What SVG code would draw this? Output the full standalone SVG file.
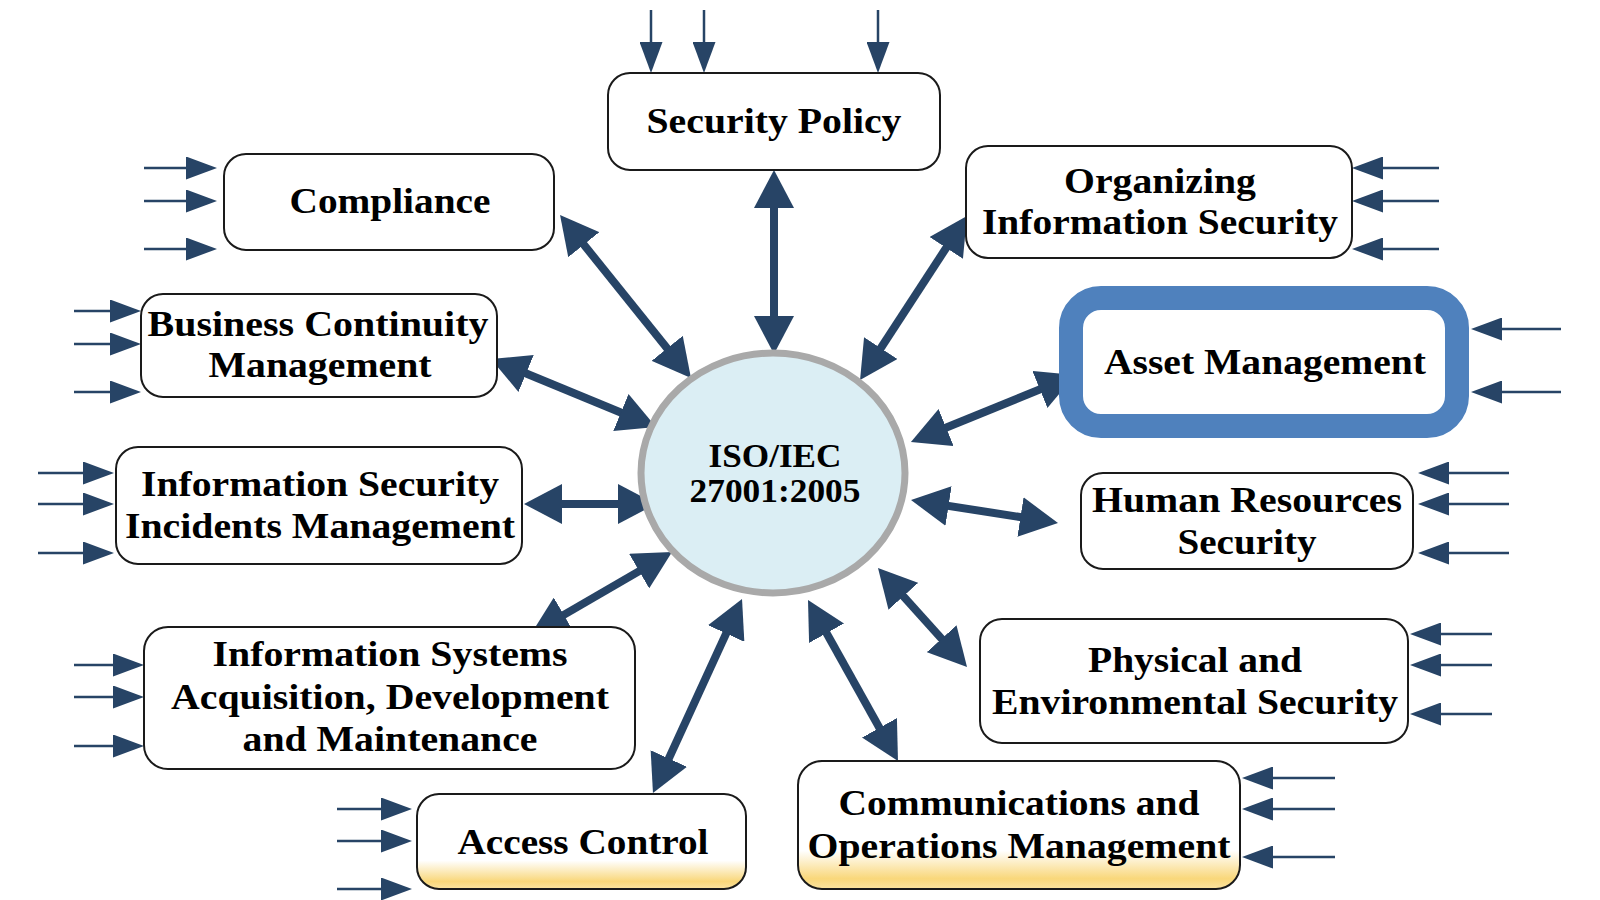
<svg xmlns="http://www.w3.org/2000/svg" width="1600" height="900" viewBox="0 0 1600 900">
<defs>
<style>
.box{fill:#fff;stroke:#1a1a1a;stroke-width:2}
.grad{fill:url(#yel);stroke:#1a1a1a;stroke-width:2}
.t{font-family:"Liberation Serif","Times New Roman",serif;font-weight:bold;font-size:35px;fill:#000;text-anchor:middle}
.c{font-size:33px}
.big{stroke:#274466;stroke-width:8;fill:none;marker-start:url(#bh);marker-end:url(#bh)}
.in{stroke:#274466;stroke-width:2.5;fill:none;marker-end:url(#sh)}
</style>
<marker id="bh" viewBox="0 0 38 40" markerWidth="38" markerHeight="40" refX="13" refY="20" markerUnits="userSpaceOnUse" orient="auto-start-reverse">
<path d="M0,0 L38,20 L0,40 z" fill="#274466"/>
</marker>
<marker id="sh" viewBox="0 0 31 23" markerWidth="31" markerHeight="23" refX="21" refY="11.5" markerUnits="userSpaceOnUse" orient="auto">
<path d="M0,0 L31,11.5 L0,23 z" fill="#274466"/>
</marker>
<linearGradient id="yel" x1="0" y1="0" x2="0" y2="1">
<stop offset="0" stop-color="#ffffff"/>
<stop offset="0.7" stop-color="#ffffff"/>
<stop offset="0.92" stop-color="#F9D77A"/>
<stop offset="1" stop-color="#FBE3A0"/>
</linearGradient>
</defs>
<rect width="1600" height="900" fill="#fff"/>

<g id="connectors">
<line class="big" x1="774" y1="195" x2="774" y2="329"/>
<line class="big" x1="953.3" y1="237" x2="873.7" y2="359"/>
<line class="big" x1="1051.9" y1="384.5" x2="934.1" y2="432.5"/>
<line class="big" x1="1033.3" y1="519.1" x2="935.7" y2="503.9"/>
<line class="big" x1="950.3" y1="648.4" x2="894.7" y2="586.6"/>
<line class="big" x1="885.8" y1="739.2" x2="820.2" y2="621.8"/>
<line class="big" x1="663.4" y1="770.3" x2="731.6" y2="621.7"/>
<line class="big" x1="552.6" y1="621.4" x2="650.4" y2="564.6"/>
<line class="big" x1="549" y1="504" x2="631" y2="504"/>
<line class="big" x1="514.1" y1="368.5" x2="632.9" y2="417.5"/>
<line class="big" x1="575.7" y1="234.5" x2="675.3" y2="358.5"/>

<line class="in" x1="651" y1="10" x2="651" y2="63"/>
<line class="in" x1="704" y1="10" x2="704" y2="63"/>
<line class="in" x1="878" y1="10" x2="878" y2="63"/>

<line class="in" x1="144" y1="168" x2="207" y2="168"/>
<line class="in" x1="144" y1="201" x2="207" y2="201"/>
<line class="in" x1="144" y1="249" x2="207" y2="249"/>

<line class="in" x1="1439" y1="168" x2="1362" y2="168"/>
<line class="in" x1="1439" y1="201" x2="1362" y2="201"/>
<line class="in" x1="1439" y1="249" x2="1362" y2="249"/>

<line class="in" x1="1561" y1="329" x2="1481" y2="329"/>
<line class="in" x1="1561" y1="392" x2="1481" y2="392"/>

<line class="in" x1="74" y1="311" x2="131" y2="311"/>
<line class="in" x1="74" y1="344" x2="131" y2="344"/>
<line class="in" x1="74" y1="392" x2="131" y2="392"/>

<line class="in" x1="38" y1="473" x2="104" y2="473"/>
<line class="in" x1="38" y1="504" x2="104" y2="504"/>
<line class="in" x1="38" y1="553" x2="104" y2="553"/>

<line class="in" x1="1509" y1="473" x2="1428" y2="473"/>
<line class="in" x1="1509" y1="504" x2="1428" y2="504"/>
<line class="in" x1="1509" y1="553" x2="1428" y2="553"/>

<line class="in" x1="1492" y1="634" x2="1420" y2="634"/>
<line class="in" x1="1492" y1="665" x2="1420" y2="665"/>
<line class="in" x1="1492" y1="714" x2="1420" y2="714"/>

<line class="in" x1="74" y1="665" x2="134" y2="665"/>
<line class="in" x1="74" y1="697" x2="134" y2="697"/>
<line class="in" x1="74" y1="746" x2="134" y2="746"/>

<line class="in" x1="337" y1="809" x2="402" y2="809"/>
<line class="in" x1="337" y1="841" x2="402" y2="841"/>
<line class="in" x1="337" y1="889" x2="402" y2="889"/>

<line class="in" x1="1335" y1="778" x2="1252" y2="778"/>
<line class="in" x1="1335" y1="809" x2="1252" y2="809"/>
<line class="in" x1="1335" y1="857" x2="1252" y2="857"/>
</g>

<g id="center">
<ellipse cx="773" cy="473" rx="132" ry="120" fill="#DBEEF4" stroke="#A9A9A9" stroke-width="7"/>
<text class="t c" x="775" y="467" textLength="133" lengthAdjust="spacingAndGlyphs">ISO/IEC</text>
<text class="t c" x="775" y="502" textLength="171" lengthAdjust="spacingAndGlyphs">27001:2005</text>
</g>

<g id="security-policy">
<rect class="box" x="608" y="73" width="332" height="97" rx="22"/>
<text class="t" x="774" y="133" textLength="255" lengthAdjust="spacingAndGlyphs">Security Policy</text>
</g>

<g id="compliance">
<rect class="box" x="224" y="154" width="330" height="96" rx="22"/>
<text class="t" x="390" y="213" textLength="201" lengthAdjust="spacingAndGlyphs">Compliance</text>
</g>

<g id="organizing">
<rect class="box" x="966" y="146" width="386" height="112" rx="22"/>
<text class="t" x="1160" y="193" textLength="192" lengthAdjust="spacingAndGlyphs">Organizing</text>
<text class="t" x="1160" y="234" textLength="356" lengthAdjust="spacingAndGlyphs">Information Security</text>
</g>

<g id="asset-management">
<rect x="1071" y="298" width="386" height="128" rx="30" fill="#fff" stroke="#4F81BD" stroke-width="24"/>
<text class="t" x="1265" y="374" textLength="322" lengthAdjust="spacingAndGlyphs">Asset Management</text>
</g>

<g id="business-continuity">
<rect class="box" x="141" y="294" width="356" height="103" rx="22"/>
<text class="t" x="318" y="336" textLength="341" lengthAdjust="spacingAndGlyphs">Business Continuity</text>
<text class="t" x="320" y="377" textLength="223" lengthAdjust="spacingAndGlyphs">Management</text>
</g>

<g id="incidents">
<rect class="box" x="116" y="447" width="406" height="117" rx="22"/>
<text class="t" x="320" y="496" textLength="358" lengthAdjust="spacingAndGlyphs">Information Security</text>
<text class="t" x="320" y="538" textLength="390" lengthAdjust="spacingAndGlyphs">Incidents Management</text>
</g>

<g id="human-resources">
<rect class="box" x="1081" y="473" width="332" height="96" rx="22"/>
<text class="t" x="1247" y="512" textLength="310" lengthAdjust="spacingAndGlyphs">Human Resources</text>
<text class="t" x="1247" y="554" textLength="139" lengthAdjust="spacingAndGlyphs">Security</text>
</g>

<g id="physical">
<rect class="box" x="980" y="619" width="428" height="124" rx="22"/>
<text class="t" x="1195" y="672" textLength="214" lengthAdjust="spacingAndGlyphs">Physical and</text>
<text class="t" x="1195" y="714" textLength="406" lengthAdjust="spacingAndGlyphs">Environmental Security</text>
</g>

<g id="acquisition">
<rect class="box" x="144" y="627" width="491" height="142" rx="24"/>
<text class="t" x="390" y="666" textLength="355" lengthAdjust="spacingAndGlyphs">Information Systems</text>
<text class="t" x="390" y="709" textLength="438" lengthAdjust="spacingAndGlyphs">Acquisition, Development</text>
<text class="t" x="390" y="751" textLength="295" lengthAdjust="spacingAndGlyphs">and Maintenance</text>
</g>

<g id="access-control">
<rect class="grad" x="417" y="794" width="329" height="95" rx="22"/>
<text class="t" x="583" y="854" textLength="251" lengthAdjust="spacingAndGlyphs">Access Control</text>
</g>

<g id="communications">
<rect class="grad" x="798" y="761" width="442" height="128" rx="24"/>
<text class="t" x="1019" y="815" textLength="361" lengthAdjust="spacingAndGlyphs">Communications and</text>
<text class="t" x="1019" y="858" textLength="423" lengthAdjust="spacingAndGlyphs">Operations Management</text>
</g>
</svg>
